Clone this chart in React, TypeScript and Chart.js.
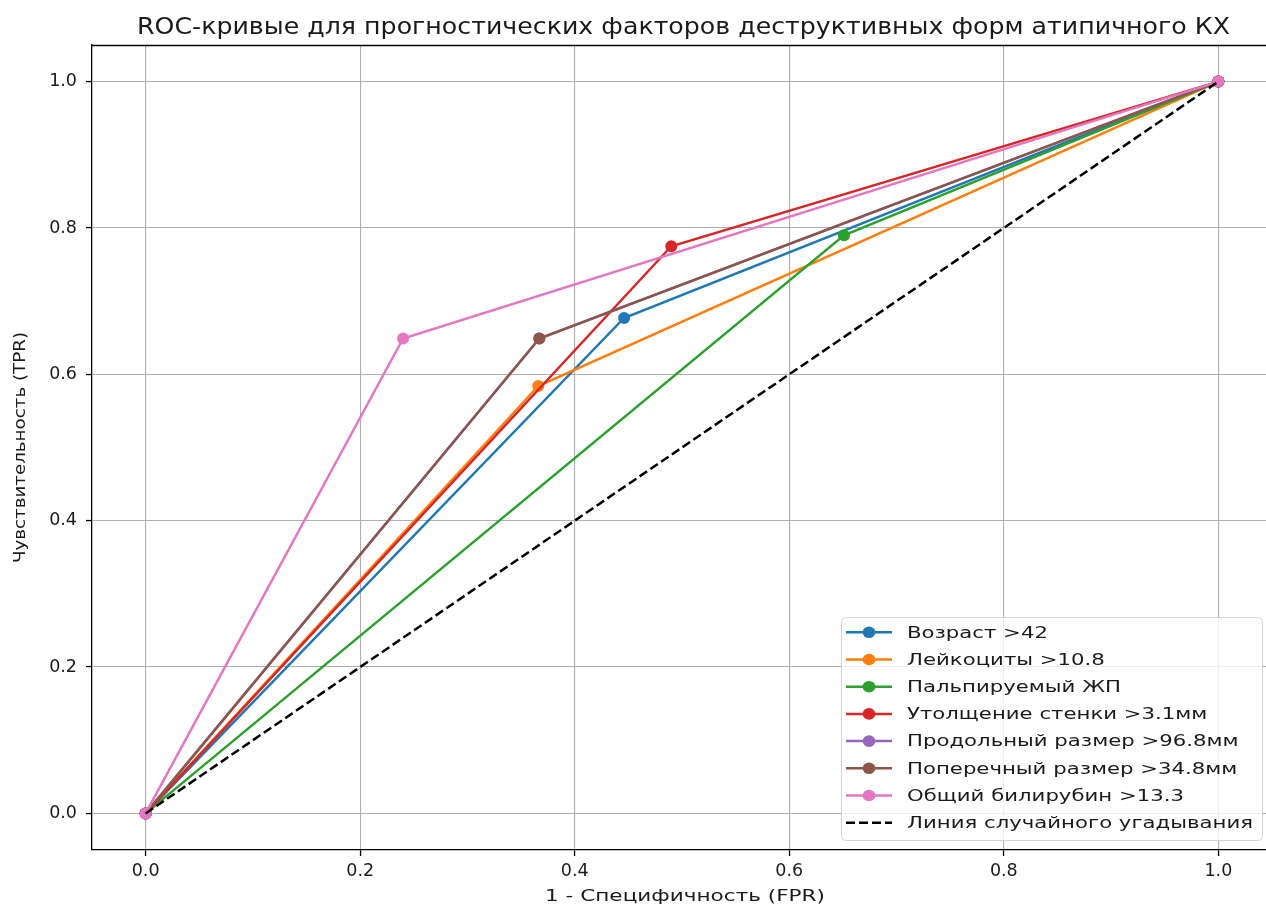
import React, { useEffect, useRef } from "react";
import { Chart, registerables } from "chart.js";

Chart.register(...registerables);

const chartTitle = "ROC-кривые для прогностических факторов деструктивных форм атипичного КХ";
const xAxisTitle = "1 - Специфичность (FPR)";
const yAxisTitle = "Чувствительность (TPR)";

const seriesNames = [
  "Возраст >42",
  "Лейкоциты >10.8",
  "Пальпируемый ЖП",
  "Утолщение стенки >3.1мм",
  "Продольный размер >96.8мм",
  "Поперечный размер >34.8мм",
  "Общий билирубин >13.3",
];
const seriesColors = ["#1f77b4", "#ff7f0e", "#2ca02c", "#d62728", "#9467bd", "#8c564b", "#e377c2"];
const seriesFPR = [
  [0, 0.446, 1],
  [0, 0.366, 1],
  [0, 0.651, 1],
  [0, 0.49, 1],
  [0, 0.367, 1],
  [0, 0.367, 1],
  [0, 0.24, 1],
];
const seriesTPR = [
  [0, 0.677, 1],
  [0, 0.584, 1],
  [0, 0.79, 1],
  [0, 0.775, 1],
  [0, 0.649, 1],
  [0, 0.649, 1],
  [0, 0.649, 1],
];
const randomName = "Линия случайного угадывания";
const randomX = [0, 1];
const randomY = [0, 1];

const xTicks = [0, 0.2, 0.4, 0.6, 0.8, 1.0];
const yTicks = [0, 0.2, 0.4, 0.6, 0.8, 1.0];

const FONT = "DejaVu Sans";
const TEXT = "#1a1a1a";

function fitText(ctx: CanvasRenderingContext2D, text: string, x: number, y: number, font: string, targetW: number, align: CanvasTextAlign, rotate = 0) {
  ctx.save();
  ctx.font = font;
  const w = ctx.measureText(text).width;
  const s = targetW / w;
  ctx.translate(x, y);
  if (rotate) ctx.rotate(rotate);
  ctx.scale(s, 1);
  ctx.textAlign = align;
  ctx.textBaseline = "middle";
  ctx.fillStyle = TEXT;
  ctx.fillText(text, 0, 0);
  ctx.restore();
}

const overlayPlugin = {
  id: "overlay",
  afterDraw(chart: any) {
    const ctx: CanvasRenderingContext2D = chart.ctx;
    const ca = chart.chartArea;
    // top spine
    ctx.save();
    ctx.strokeStyle = "#000";
    ctx.lineWidth = 1.3;
    ctx.beginPath();
    ctx.moveTo(ca.left, ca.top + 0.5);
    ctx.lineTo(ca.right, ca.top + 0.5);
    ctx.stroke();
    ctx.restore();

    // title
    fitText(ctx, chartTitle, 683.5, 28, `23px ${FONT}`, 1093, "center");
    // axis titles
    fitText(ctx, xAxisTitle, 685, 897, `16.5px ${FONT}`, 280, "center");
    fitText(ctx, yAxisTitle, 21, (ca.top + ca.bottom) / 2, `16.5px ${FONT}`, 231, "center", -Math.PI / 2);

    // legend
    const names = [...seriesNames, randomName];
    const colors = [...seriesColors, "#000"];
    const bx = 841, by = 617, bw = 421, bh = 223;
    ctx.save();
    ctx.beginPath();
    (ctx as any).roundRect(bx + 0.5, by + 0.5, bw, bh, 4);
    ctx.fillStyle = "rgba(255,255,255,0.8)";
    ctx.fill();
    ctx.strokeStyle = "#d3d3d3";
    ctx.lineWidth = 1;
    ctx.stroke();
    ctx.restore();

    ctx.save();
    ctx.font = `16.5px ${FONT}`;
    const sLeg = 346 / ctx.measureText(randomName).width;
    ctx.restore();

    names.forEach((name, i) => {
      const y = 632.3 + i * 27.2;
      ctx.save();
      ctx.strokeStyle = colors[i];
      ctx.lineWidth = 2.5;
      if (i === names.length - 1) ctx.setLineDash([9, 4]);
      ctx.beginPath();
      ctx.moveTo(846, y);
      ctx.lineTo(892, y);
      ctx.stroke();
      ctx.setLineDash([]);
      if (i < names.length - 1) {
        ctx.fillStyle = colors[i];
        ctx.beginPath();
        ctx.ellipse(869, y, 6.4, 5.8, 0, 0, Math.PI * 2);
        ctx.fill();
      }
      ctx.restore();
      ctx.save();
      ctx.font = `16.5px ${FONT}`;
      ctx.translate(907, y + 1);
      ctx.scale(sLeg, 1);
      ctx.textAlign = "left";
      ctx.textBaseline = "middle";
      ctx.fillStyle = TEXT;
      ctx.fillText(name, 0, 0);
      ctx.restore();
    });
  },
};

export default function App() {
  const ref = useRef<HTMLCanvasElement | null>(null);
  useEffect(() => {
    if (!ref.current) return;
    const n = seriesNames.length;
    const datasets: any[] = seriesNames.map((name, i) => ({
      label: name,
      data: seriesFPR[i].map((x, j) => ({ x, y: seriesTPR[i][j] })),
      borderColor: seriesColors[i],
      backgroundColor: seriesColors[i],
      pointBackgroundColor: seriesColors[i],
      pointBorderWidth: 0,
      pointRadius: 6,
      borderWidth: 2.5,
      tension: 0,
      fill: false,
      order: n - i,
    }));
    datasets.push({
      label: randomName,
      data: randomX.map((x, j) => ({ x, y: randomY[j] })),
      borderColor: "#000",
      borderDash: [9, 4],
      borderWidth: 2.5,
      pointRadius: 0,
      tension: 0,
      fill: false,
      order: 0,
    });
    const tickFont = { family: FONT, size: 17.5 };
    const chart = new Chart(ref.current, {
      type: "line",
      data: { datasets },
      plugins: [overlayPlugin],
      options: {
        animation: false,
        responsive: false,
        devicePixelRatio: 1,
        events: [],
        layout: { autoPadding: false, padding: { top: 45, left: 0, right: 0, bottom: 0 } },
        plugins: { legend: { display: false }, title: { display: false }, tooltip: { enabled: false } },
        scales: {
          x: {
            type: "linear",
            min: -0.05,
            max: 1.05,
            afterFit: (s: any) => { s.height = 56; s.paddingLeft = 0; s.paddingRight = 0; },
            afterBuildTicks: (s: any) => { s.ticks = xTicks.map((v) => ({ value: v })); },
            ticks: { font: tickFont, color: TEXT, padding: 5, maxRotation: 0, autoSkip: false, callback: (v: any) => Number(v).toFixed(1) },
            grid: { color: "#b0b0b0", lineWidth: 1.1, tickLength: 6, tickColor: "#000", tickWidth: 1.3 },
            border: { color: "#000", width: 1.3 },
          },
          y: {
            type: "linear",
            min: -0.05,
            max: 1.05,
            afterFit: (s: any) => { s.width = 92; s.paddingTop = 0; s.paddingBottom = 0; },
            afterBuildTicks: (s: any) => { s.ticks = yTicks.map((v) => ({ value: v })); },
            ticks: { font: tickFont, color: TEXT, padding: 9, autoSkip: false, callback: (v: any) => Number(v).toFixed(1) },
            grid: { color: "#b0b0b0", lineWidth: 1.1, tickLength: 6, tickColor: "#000", tickWidth: 1.3 },
            border: { color: "#000", width: 1.3 },
          },
        },
      } as any,
    });
    return () => chart.destroy();
  }, []);
  return (
    <div style={{ position: "absolute", left: 0, top: 0, width: 1266, height: 906, overflow: "hidden", background: "#fff" }}>
      <div style={{ width: 1272, height: 906 }}>
        <canvas ref={ref} width={1272} height={906} style={{ display: "block", width: 1272, height: 906 }} />
      </div>
    </div>
  );
}
